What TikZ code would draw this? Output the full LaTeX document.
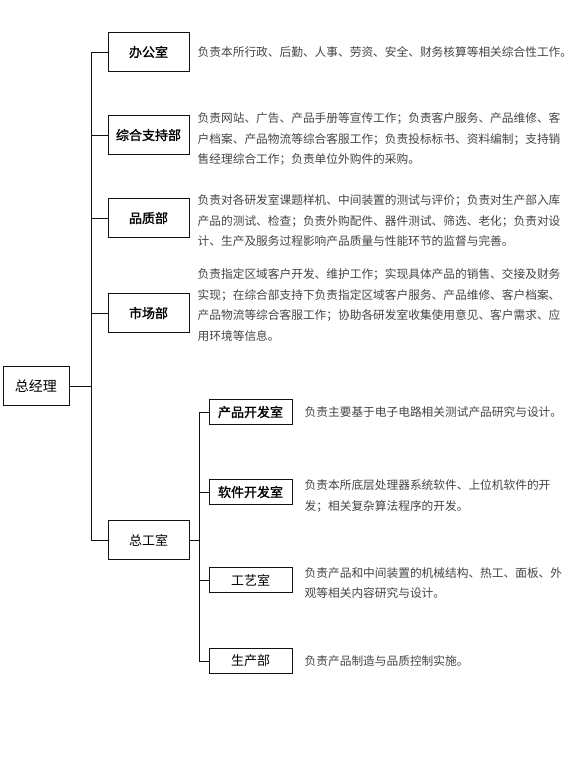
\documentclass[tikz,border=0pt]{standalone}
\usepackage{fontspec}
\usepackage{tikz}
\usetikzlibrary{positioning}
\setmainfont{Noto Sans CJK SC}
\newfontfamily\deptfont[FakeBold=1.5]{Noto Sans CJK SC}
\definecolor{OrgInk}{HTML}{111111}
\definecolor{OrgText}{HTML}{444444}

\begin{document}
\begin{tikzpicture}[
  x=1pt, y=-1pt,
  node distance=8pt,
  dept/.style={draw=OrgInk, line width=1pt, minimum width=81pt, minimum height=39pt, inner sep=0pt, font=\fontsize{13}{15}\deptfont\mdseries},
  room/.style={dept, minimum width=83pt, minimum height=25pt},
  thinlabel/.style={font=\fontsize{13}{15}\selectfont\rmfamily\mdseries},
  desc/.style={align=left, text=OrgText, inner sep=0pt, font=\fontsize{11.7}{20.5}\selectfont},
  link/.style={line width=1pt, color=OrgInk}
]
\useasboundingbox (0,0) rectangle (573,761);

% top level
\node[dept, minimum width=66pt, thinlabel, font=\fontsize{14}{16}\selectfont] (gm) at (36,386) {总经理};
\node[dept] (office) at (148.5,52) {办公室};
\node[dept] (support) at (148.5,135) {综合支持部};
\node[dept] (quality) at (148.5,218) {品质部};
\node[dept] (market) at (148.5,313) {市场部};
\node[dept, thinlabel] (chief) at (148.5,540) {总工室};

% offices under chief
\node[room] (dev) at (250.5,412) {产品开发室};
\node[room] (soft) at (250.5,492) {软件开发室};
\node[room, thinlabel] (craft) at (250.5,580) {工艺室};
\node[room, thinlabel] (prod) at (250.5,661) {生产部};

% duties
\node[desc, right=of office] (officetxt) {负责本所行政、后勤、人事、劳资、安全、财务核算等相关综合性工作。};
\node[desc, right=of support, yshift=-4pt] (supporttxt) {负责网站、广告、产品手册等宣传工作；负责客户服务、产品维修、客\\户档案、产品物流等综合客服工作；负责投标标书、资料编制；支持销\\售经理综合工作；负责单位外购件的采购。};
\node[desc, right=of quality, yshift=-3pt] (qualitytxt) {负责对各研发室课题样机、中间装置的测试与评价；负责对生产部入库\\产品的测试、检查；负责外购配件、器件测试、筛选、老化；负责对设\\计、生产及服务过程影响产品质量与性能环节的监督与完善。};
\node[desc, right=of market, yshift=8pt] (markettxt) {负责指定区域客户开发、维护工作；实现具体产品的销售、交接及财务\\实现；在综合部支持下负责指定区域客户服务、产品维修、客户档案、\\产品物流等综合客服工作；协助各研发室收集使用意见、客户需求、应\\用环境等信息。};
\node[desc, right=12pt of dev] (devtxt) {负责主要基于电子电路相关测试产品研究与设计。};
\node[desc, right=12pt of soft, yshift=-4pt] (softtxt) {负责本所底层处理器系统软件、上位机软件的开\\发；相关复杂算法程序的开发。};
\node[desc, right=12pt of craft, yshift=-3pt] (crafttxt) {负责产品和中间装置的机械结构、热工、面板、外\\观等相关内容研究与设计。};
\node[desc, right=12pt of prod] (prodtxt) {负责产品制造与品质控制实施。};

% connectors
\coordinate (trunk) at (91.5,386);
\coordinate (fork) at (199,540);
\draw[link] (gm) -- (trunk);
\foreach \n in {office,support,quality,market,chief}
  \draw[link] (trunk) |- (\n.west);
\draw[link] (chief) -- (fork);
\foreach \n in {dev,soft,craft,prod}
  \draw[link] (fork) |- (\n.west);
\end{tikzpicture}
\end{document}
